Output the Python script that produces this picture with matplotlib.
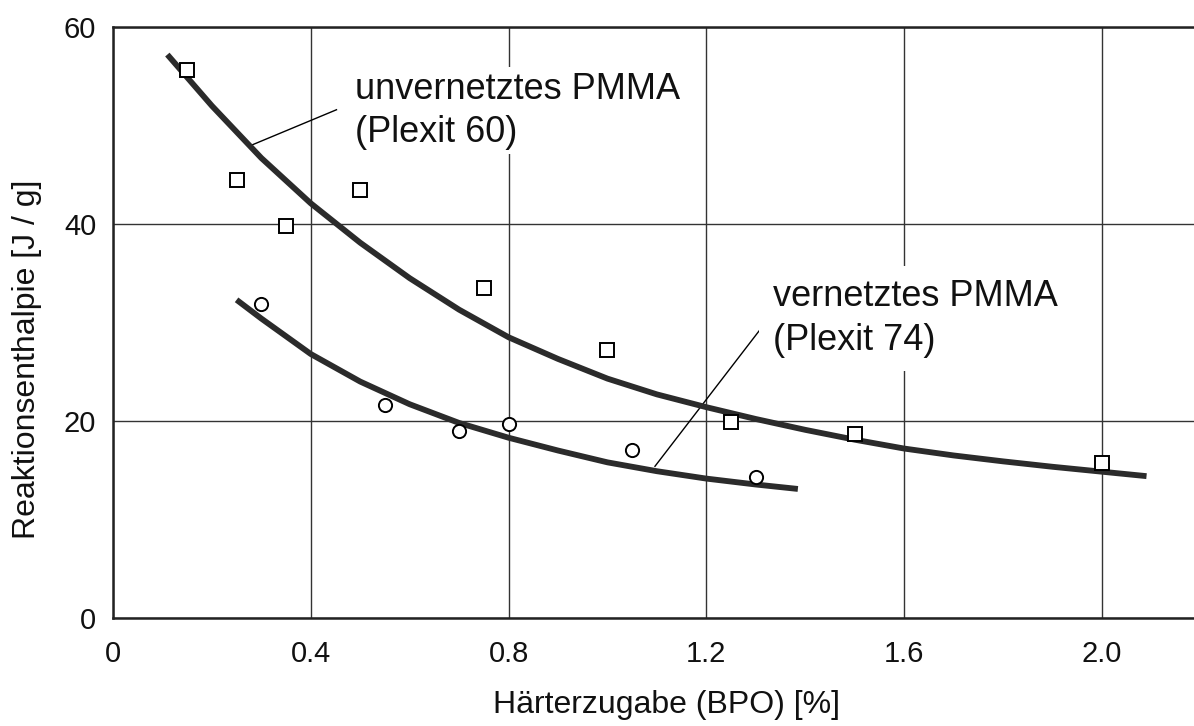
import matplotlib
matplotlib.use('Agg')
from matplotlib import pyplot as plt
from matplotlib import font_manager

# Reaktionsenthalpie von PMMA in Abhaengigkeit der Haerterzugabe
# Messpunkte unvernetztes PMMA (Plexit 60)
bpo_unv = [0.15, 0.25, 0.35, 0.5, 0.75, 1.0, 1.25, 1.5, 2.0]
dh_unv = [55.6, 44.5, 39.8, 43.5, 33.5, 27.2, 19.9, 18.7, 15.7]
# Messpunkte vernetztes PMMA (Plexit 74)
bpo_ver = [0.3, 0.55, 0.7, 0.8, 1.05, 1.3]
dh_ver = [31.9, 21.6, 19.0, 19.7, 17.1, 14.3]

# Ausgleichskurven
kurve_unv_x = [0.11, 0.2, 0.3, 0.4, 0.5, 0.6, 0.7, 0.8, 0.9, 1.0, 1.1, 1.2, 1.3, 1.4,
               1.5, 1.6, 1.7, 1.8, 1.9, 2.0, 2.09]
kurve_unv_y = [57.2, 52.0, 46.7, 42.1, 38.1, 34.5, 31.3, 28.5, 26.3, 24.3, 22.7, 21.4, 20.2, 19.1,
               18.1, 17.2, 16.5, 15.9, 15.35, 14.85, 14.4]
kurve_ver_x = [0.25, 0.3, 0.4, 0.5, 0.6, 0.7, 0.8, 0.9, 1.0, 1.1, 1.2, 1.3, 1.385]
kurve_ver_y = [32.3, 30.4, 26.8, 24.0, 21.7, 19.8, 18.3, 17.0, 15.8, 14.9, 14.15, 13.55, 13.1]

# Beschriftungen mit Hinweislinien
text_unv = 'unvernetztes PMMA\n(Plexit 60)'
text_unv_pos = (0.489, 51.5)
linie_unv = ([0.28, 0.452], [48.0, 51.6])
text_ver = 'vernetztes PMMA\n(Plexit 74)'
text_ver_pos = (1.335, 30.4)
linie_ver = ([1.096, 1.312], [15.4, 29.5])

xticks = [0, 0.4, 0.8, 1.2, 1.6, 2.0]
xtick_labels = ['0', '0.4', '0.8', '1.2', '1.6', '2.0']
yticks = [0, 20, 40, 60]

vorhanden = {f.name for f in font_manager.fontManager.ttflist}
schrift = 'Liberation Sans' if 'Liberation Sans' in vorhanden else 'DejaVu Sans'
plt.rcParams['font.family'] = [schrift, 'DejaVu Sans']

fig = plt.figure(figsize=(11.94, 7.26), dpi=100)
ax = fig.add_axes([0.0946, 0.1488, 1 - 0.0946, 0.9628 - 0.1488])

for kx, ky in [(kurve_unv_x, kurve_unv_y), (kurve_ver_x, kurve_ver_y)]:
    ax.plot(kx, ky, color='#2b2b2b', lw=4.2, solid_capstyle='butt',
            solid_joinstyle='round', zorder=3)
ax.plot(bpo_unv, dh_unv, ls='none', marker='s', ms=9.5, mfc='white', mec='black', mew=1.4, zorder=4)
ax.plot(bpo_ver, dh_ver, ls='none', marker='o', ms=9.5, mfc='white', mec='black', mew=1.4, zorder=4)

ax.plot(*linie_unv, color='black', lw=1.0, zorder=2)
ax.plot(*linie_ver, color='black', lw=1.0, zorder=2)
ax.text(*text_unv_pos, text_unv, fontsize=26, va='center', ha='left', linespacing=1.3,
        color='#111111', zorder=5, bbox=dict(facecolor='white', edgecolor='none', pad=3))
ax.text(*text_ver_pos, text_ver, fontsize=26, va='center', ha='left', linespacing=1.3,
        color='#111111', zorder=5, bbox=dict(facecolor='white', edgecolor='none', pad=10))

ax.set_xlim(0, 2.186)
ax.set_ylim(0, 60)
ax.set_xticks(xticks)
ax.set_xticklabels(xtick_labels)
ax.set_yticks(yticks)
ax.tick_params(axis='both', length=0, labelsize=21, colors='#111111')
ax.tick_params(axis='x', pad=16)
ax.tick_params(axis='y', pad=12)
ax.grid(True, color='#333333', lw=1.0)
ax.set_axisbelow(True)

for s in ['left', 'bottom', 'top']:
    ax.spines[s].set_linewidth(1.8)
    ax.spines[s].set_color('#222222')
ax.spines['right'].set_visible(False)

ax.set_xlabel('Härterzugabe (BPO) [%]', fontsize=23, color='#111111')
ax.set_ylabel('Reaktionsenthalpie [J / g]', fontsize=23, color='#111111')
ax.xaxis.set_label_coords(0.512, -0.122)
ax.yaxis.set_label_coords(-0.066, 0.437)

fig.savefig('out.png', dpi=100)
